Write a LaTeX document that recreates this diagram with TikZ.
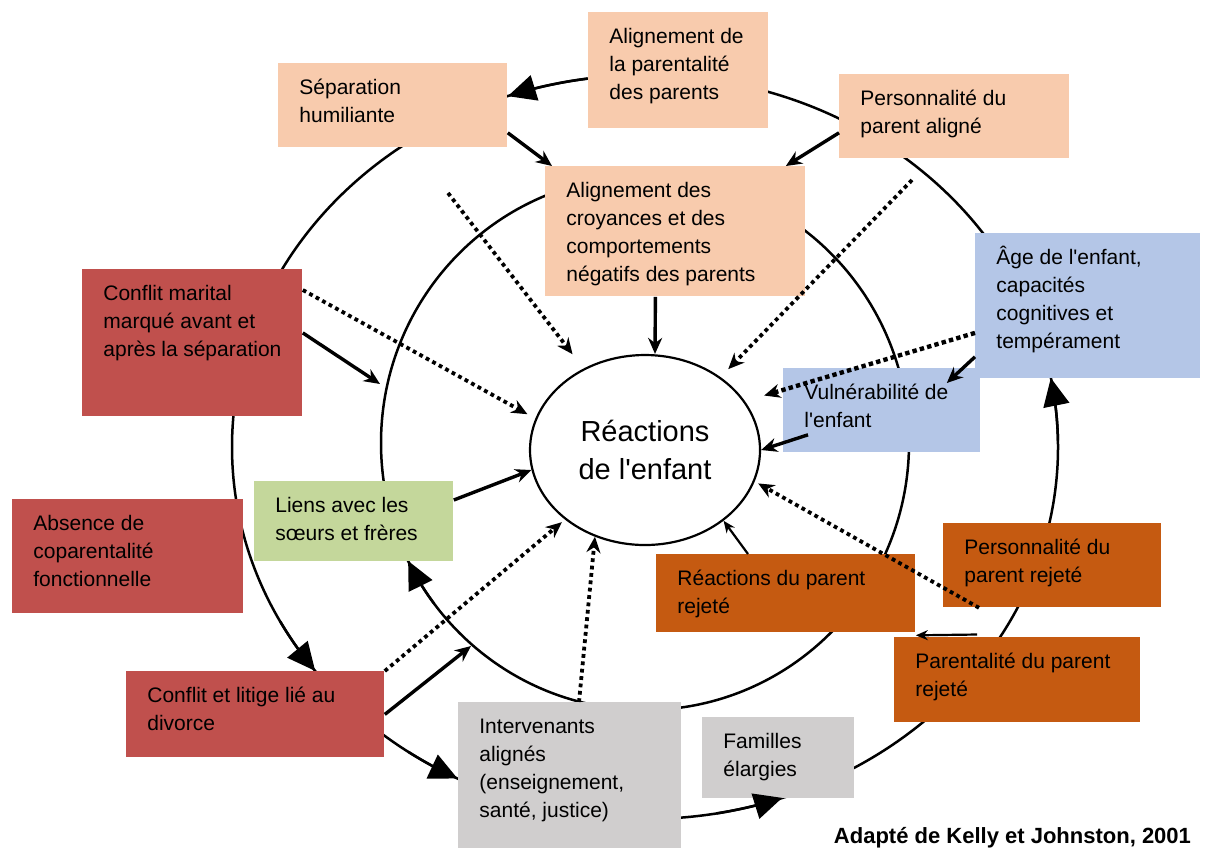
\documentclass[tikz,border=0pt]{standalone}
\usepackage{fontspec}
\setmainfont{Liberation Sans}
\usetikzlibrary{shapes,arrows.meta,positioning}

\definecolor{peachfill}{HTML}{F8CBAD}
\definecolor{brickfill}{HTML}{C0504D}
\definecolor{skyfill}{HTML}{B4C6E7}
\definecolor{sagefill}{HTML}{C4D79B}
\definecolor{rustfill}{HTML}{C55A11}
\definecolor{ashfill}{HTML}{D0CECE}

\newcommand{\boxfont}{\fontsize{10.5}{14}\selectfont}
\newcommand{\bigfont}{\fontsize{14.5}{19}\selectfont}
% text of a box, kept at the top: width, height, lines
\newcommand{\boxtext}[3]{\parbox[t][#2][t]{#1}{\raggedright\strut#3}}

\tikzset{
  factor/.style={anchor=north west, inner xsep=10.5pt, inner ysep=5.5pt, font=\boxfont},
  ring/.style={line width=1.25pt},
  ringtip/.style={line width=1.25pt, -{Triangle[length=14pt,width=13pt]}},
  link/.style={line width=1.7pt, -{Stealth[length=8pt,width=7pt]}},
  thinlink/.style={line width=1.1pt, -{Stealth[length=6pt,width=5pt]}},
  dotlink/.style={line width=1.9pt, dash pattern=on 1.9pt off 1.8pt, -{Stealth[length=8pt,width=7pt]}},
}

\begin{document}
\begin{tikzpicture}[x=0.5pt, y=-0.5pt]
\useasboundingbox (0,0) rectangle (1208,848);

% the two rings round the child
\draw[ring] (645,447) ellipse [x radius=413, y radius=372];
\draw[ring] (645,443) ellipse [x radius=264, y radius=267];

\node[draw, ellipse, line width=1.1pt, minimum width=115pt, minimum height=95pt,
      font=\bigfont, align=center] (enfant) at (645,450) {R\'eactions\\de l\textquotesingle enfant};

% outer ring
\node[factor, fill=peachfill] (algpar) at (588,12) {\boxtext{69pt}{47pt}{Alignement de\\la parentalité\\des parents}};
\node[factor, fill=peachfill] (sep) at (278,63) {\boxtext{93.5pt}{31pt}{Séparation\\humiliante}};
\node[factor, fill=peachfill] (persal) at (839,74) {\boxtext{94pt}{31pt}{Personnalité du\\parent aligné}};
\node[factor, fill=brickfill] (confm) at (82,269) {\boxtext{89pt}{62.5pt}{Conflit marital\\marqué avant et\\après la séparation}};
\node[factor, fill=brickfill] (abs) at (12,499) {\boxtext{94.5pt}{46pt}{Absence de\\coparentalité\\fonctionnelle}};
\node[factor, fill=brickfill] (confl) at (126,671) {\boxtext{108pt}{32pt}{Conflit et litige lié au\\divorce}};
\node[factor, fill=ashfill] (interv) at (458,702) {\boxtext{90.5pt}{62pt}{Intervenants\\alignés\\(enseignement,\\santé, justice)}};
\node[factor, fill=ashfill] (fam) at (702,717) {\boxtext{55pt}{29.5pt}{Familles\\élargies}};
\node[factor, fill=rustfill] (parrej) at (894,637) {\boxtext{102pt}{31.5pt}{Parentalité du parent\\rejeté}};
\node[factor, fill=rustfill] (persrej) at (943,523) {\boxtext{88pt}{31pt}{Personnalité du\\parent rejeté}};
\node[factor, fill=skyfill] (vuln) at (783,368) {\boxtext{77.5pt}{31pt}{Vulnérabilité de\\l\textquotesingle enfant}};
\node[factor, fill=skyfill] (age) at (975,233) {\boxtext{91.5pt}{61.5pt}{Âge de l\textquotesingle enfant,\\capacités\\cognitives et\\tempérament}};

% inner ring
\node[factor, fill=peachfill] (croy) at (545,166) {\boxtext{109pt}{54pt}{Alignement des\\croyances et des\\comportements\\négatifs des parents}};
\node[factor, fill=sagefill] (liens) at (254,481) {\boxtext{78.5pt}{29pt}{Liens avec les\\sœurs et frères}};
\node[factor, fill=rustfill] (reacp) at (656,554) {\boxtext{108.5pt}{28pt}{Réactions du parent\\rejeté}};

\node[font=\fontsize{11}{13}\selectfont\bfseries, anchor=base east] (source) at (1198,843) {Adapté de Kelly et Johnston, 2001};

\coordinate (d1start) at (448,193);
\coordinate (d3start) at (912,180);
\coordinate (confmend) at (380,384);
\coordinate (conflend) at (471,646);

% arrow heads on the rings
\draw[ringtip] plot[domain=262:250.6, samples=12] ({645+413*cos(\x)}, {447+372*sin(\x)});
\draw[ringtip] plot[domain=152:143, samples=12] ({645+413*cos(\x)}, {447+372*sin(\x)});
\draw[ringtip] plot[domain=125:117, samples=12] ({645+413*cos(\x)}, {447+372*sin(\x)});
\draw[ringtip] plot[domain=80:70.6, samples=12] ({645+413*cos(\x)}, {447+372*sin(\x)});
\draw[ringtip] plot[domain=-1:-10.7, samples=12] ({645+413*cos(\x)}, {447+372*sin(\x)});
\draw[ringtip] plot[domain=143:153.8, samples=12] ({645+264*cos(\x)}, {443+267*sin(\x)});

% solid links
\draw[link] ([shift={(0,-15)}]sep.south east) -- ([shift={(7,0)}]croy.north west);
\draw[link] ([shift={(0,-26)}]persal.south west) -- ([shift={(-20,0)}]croy.north east);
\draw[link] ([shift={(-20,0)}]croy.south) -- ([shift={(10,0)}]enfant.north);
\draw[link] ([shift={(0,-10)}]confm.east) -- (confmend);
\draw[link] ([shift={(0,19)}]liens.north east) -- (enfant.190);
\draw[link] (confl.east) -- (conflend);
\draw[link] ([shift={(0,-22)}]age.south west) -- ([shift={(-34,15)}]vuln.north east);
\draw[link] ([shift={(25,-18)}]vuln.south west) -- (enfant.east);
\draw[thinlink] ([shift={(92,0)}]reacp.north west) -- (enfant.-42);
\draw[thinlink] ([shift={(83,-2.5)}]parrej.north west) -- ([shift={(0,2.5)}]reacp.south east);

% dotted links
\draw[dotlink, shorten >=9pt] (d1start) -- (enfant.127);
\draw[dotlink, shorten >=4.5pt] ([shift={(0,21)}]confm.north east) -- (enfant.164);
\draw[dotlink, shorten >=5.5pt] (d3start) -- (enfant.44);
\draw[dotlink, line width=2.2pt, dash pattern=on 2.2pt off 1.6pt, shorten >=10pt] ([shift={(0,27)}]age.west) -- (enfant.26);
\draw[dotlink, shorten >=2pt] ([shift={(36,0)}]persrej.south west) -- (enfant.-16);
\draw[dotlink, shorten >=2pt] (confl.north east) -- (enfant.221);
\draw[dotlink] ([shift={(121,0)}]interv.north west) -- (enfant.240);

\end{tikzpicture}
\end{document}
